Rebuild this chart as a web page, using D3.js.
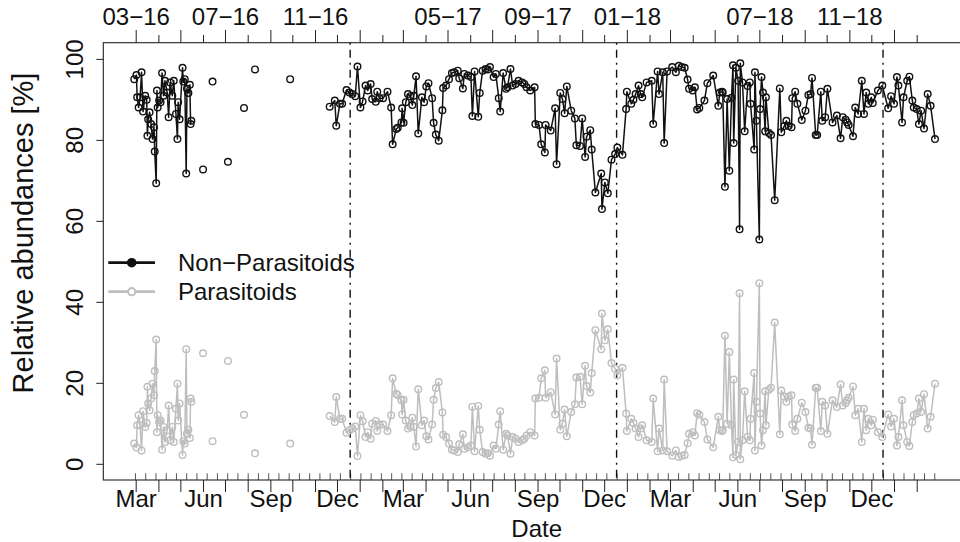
<!DOCTYPE html>
<html>
<head>
<meta charset="utf-8">
<script src="https://cdn.jsdelivr.net/npm/d3@7"></script>
<style>
  body { margin: 0; background: #fff; }
  svg { display: block; font-family: "Liberation Sans", Arial, Helvetica, sans-serif; }
</style>
</head>
<body>
<svg id="chart" width="960" height="542"></svg>
<script>
// Sampling dates (one value per sample for each group)
const sampleDates = [
  "2016-02-28","2016-03-02","2016-03-03","2016-03-05","2016-03-07","2016-03-09","2016-03-11","2016-03-14","2016-03-16","2016-03-17",
  "2016-03-18","2016-03-20","2016-03-22","2016-03-24","2016-03-26","2016-03-27","2016-03-29","2016-03-30","2016-03-31","2016-04-02",
  "2016-04-04","2016-04-06","2016-04-08","2016-04-10","2016-04-13","2016-04-15","2016-04-17","2016-04-20","2016-04-22","2016-04-25",
  "2016-04-27","2016-04-28","2016-04-30","2016-05-04","2016-05-05","2016-05-07","2016-05-09","2016-05-10","2016-05-12","2016-05-14",
  "2016-05-15","2016-05-16",
  "2016-06-01","2016-06-14","2016-07-05","2016-07-27","2016-08-11","2016-09-28",
  "2016-11-21","2016-11-28","2016-11-30","2016-12-05","2016-12-08","2016-12-14","2016-12-18","2016-12-22","2016-12-26","2016-12-29",
  "2017-01-02","2017-01-05","2017-01-09","2017-01-12","2017-01-16","2017-01-18","2017-01-23","2017-01-25","2017-01-28","2017-02-02",
  "2017-02-08","2017-02-13","2017-02-15","2017-02-20","2017-02-22","2017-02-27","2017-02-28","2017-03-02","2017-03-05","2017-03-08",
  "2017-03-11","2017-03-14","2017-03-16","2017-03-19","2017-03-22","2017-03-27","2017-03-30","2017-04-02","2017-04-05","2017-04-10",
  "2017-04-12","2017-04-15","2017-04-19","2017-04-24","2017-04-25","2017-04-29","2017-05-03","2017-05-07","2017-05-10","2017-05-15",
  "2017-05-17","2017-05-22","2017-05-24","2017-05-29","2017-06-02","2017-06-04","2017-06-07","2017-06-12","2017-06-14","2017-06-18",
  "2017-06-22","2017-06-25","2017-06-28","2017-07-03","2017-07-06","2017-07-10","2017-07-12","2017-07-16","2017-07-20","2017-07-22",
  "2017-07-26","2017-07-29","2017-08-02","2017-08-06","2017-08-11","2017-08-14","2017-08-17","2017-08-22","2017-08-28","2017-08-29",
  "2017-09-03","2017-09-06","2017-09-11","2017-09-12","2017-09-19","2017-09-25","2017-09-27","2017-10-02","2017-10-05","2017-10-08",
  "2017-10-11","2017-10-17","2017-10-22","2017-10-24","2017-10-29","2017-11-01","2017-11-05","2017-11-07","2017-11-12","2017-11-14",
  "2017-11-19","2017-11-27","2017-11-28","2017-12-02","2017-12-06","2017-12-11","2017-12-16","2017-12-19","2017-12-26","2017-12-31",
  "2018-01-01",
  "2018-01-07","2018-01-10","2018-01-13","2018-01-17","2018-01-20","2018-01-22","2018-01-28","2018-02-04","2018-02-06","2018-02-12",
  "2018-02-14","2018-02-19","2018-02-21","2018-02-25","2018-03-04","2018-03-09","2018-03-13","2018-03-17","2018-03-21","2018-03-25",
  "2018-03-27","2018-04-01","2018-04-04","2018-04-07","2018-04-10","2018-04-17","2018-04-21","2018-04-29","2018-05-06","2018-05-08",
  "2018-05-11","2018-05-12","2018-05-15","2018-05-18","2018-05-21","2018-05-24","2018-05-26","2018-05-27","2018-05-30","2018-06-02",
  "2018-06-04","2018-06-05","2018-06-08","2018-06-11","2018-06-15","2018-06-18","2018-06-19","2018-06-24","2018-06-25","2018-06-27",
  "2018-07-01","2018-07-02","2018-07-04","2018-07-06","2018-07-09","2018-07-10","2018-07-14","2018-07-17","2018-07-22","2018-07-29",
  "2018-07-31","2018-08-04","2018-08-07","2018-08-10","2018-08-14","2018-08-15","2018-08-19","2018-08-22","2018-08-28","2018-09-02",
  "2018-09-06","2018-09-09","2018-09-11","2018-09-16","2018-09-18","2018-09-23","2018-09-25","2018-09-29","2018-10-02","2018-10-09",
  "2018-10-15","2018-10-20","2018-10-23","2018-10-27","2018-10-29","2018-10-31","2018-11-06","2018-11-09","2018-11-13","2018-11-18",
  "2018-11-21","2018-11-24","2018-11-27","2018-12-01","2018-12-03","2018-12-10","2018-12-16","2018-12-24","2018-12-28","2019-01-01",
  "2019-01-05","2019-01-07","2019-01-12","2019-01-14","2019-01-19","2019-01-22","2019-01-26","2019-01-28","2019-02-01","2019-02-04",
  "2019-02-07","2019-02-11","2019-02-16","2019-02-20","2019-02-26"
];

// Relative abundance of non-parasitoid insects [%]
const nonParasitoids = [
  95.0, 96.0, 90.5, 88.0, 90.5, 96.7, 87.0, 90.9, 89.9, 81.0,
  85.1, 86.8, 83.9, 80.2, 83.1, 77.1, 69.3, 92.2, 88.0, 89.7,
  89.3, 96.5, 90.9, 94.6, 91.7, 85.6, 94.2, 90.9, 94.6, 86.4,
  80.2, 89.3, 85.1, 97.8, 94.4, 95.0, 71.7, 92.6, 91.6, 93.6,
  83.9, 84.7,
  72.7, 94.4, 74.6, 87.9, 97.4, 95.0,
  88.2, 89.7, 83.5, 88.9, 88.9, 92.3, 91.7, 91.3, 90.8, 98.1,
  88.0, 89.5, 93.4, 92.2, 93.8, 90.1, 89.4, 91.9, 90.3, 90.3,
  91.9, 88.0, 78.9, 82.7, 83.0, 84.3, 87.8, 84.2, 89.3, 91.3,
  90.8, 88.6, 90.9, 95.7, 81.6, 90.5, 89.3, 93.2, 94.0, 90.3,
  84.2, 81.3, 79.8, 87.3, 92.8, 93.4, 95.0, 96.5, 96.7, 97.1,
  95.2, 92.7, 96.3, 95.9, 95.5, 85.9, 96.9, 85.7, 91.6, 97.1,
  97.5, 97.4, 98.0, 95.5, 96.3, 90.3, 87.0, 96.5, 92.6, 93.0,
  97.5, 93.4, 93.8, 94.6, 94.2, 93.8, 93.0, 92.2, 93.0, 83.9,
  83.7, 78.9, 76.9, 83.7, 82.3, 87.8, 74.0, 91.6, 90.1, 86.6,
  93.2, 87.2, 85.3, 78.7, 78.5, 85.3, 75.8, 80.8, 82.4, 77.6,
  67.0, 71.7, 62.9, 69.5, 66.8, 75.1, 76.5, 78.1, 76.3, 87.6,
  91.9,
  88.9, 89.9, 91.3, 93.4, 91.3, 90.5, 94.2, 94.6, 83.9, 96.9,
  91.3, 96.7, 79.2, 96.9, 98.0, 96.7, 98.3, 98.0, 97.8, 94.9,
  92.6, 92.2, 93.0, 87.5, 87.9, 89.7, 94.0, 95.9, 88.4, 91.7,
  91.9, 91.7, 68.4, 90.1, 72.4, 90.4, 98.4, 79.2, 97.8, 94.6,
  57.9, 98.9, 94.2, 82.1, 93.3, 94.2, 88.9, 77.6, 96.7, 84.7,
  55.4, 87.6, 95.5, 91.7, 82.1, 90.5, 81.7, 81.2, 65.1, 92.7,
  81.9, 83.4, 84.7, 83.4, 83.1, 90.3, 91.9, 88.9, 84.9, 87.2,
  91.1, 91.3, 95.3, 81.2, 81.2, 91.9, 84.7, 85.6, 92.6, 84.3,
  86.0, 80.4, 85.6, 85.0, 84.3, 83.7, 80.9, 88.0, 86.4, 94.6,
  86.4, 91.7, 88.9, 90.5, 89.1, 92.2, 93.4, 87.8, 90.8, 88.9,
  95.5, 93.4, 84.3, 90.5, 94.6, 95.6, 89.7, 88.0, 87.6, 83.9,
  87.2, 82.8, 91.3, 88.4, 80.2
];

// Relative abundance of parasitoids [%]
const parasitoids = [
   5.0,  4.0,  9.5, 12.0,  9.5,  3.3, 13.0,  9.1, 10.1, 19.0,
  14.9, 13.2, 16.1, 19.8, 16.9, 22.9, 30.7,  7.8, 12.0, 10.3,
  10.7,  3.5,  9.1,  5.4,  8.3, 14.4,  5.8,  9.1,  5.4, 13.6,
  19.8, 10.7, 14.9,  2.2,  5.6,  5.0, 28.3,  7.4,  8.4,  6.4,
  16.1, 15.3,
  27.3,  5.6, 25.4, 12.1,  2.6,  5.0,
  11.8, 10.3, 16.5, 11.1, 11.1,  7.7,  8.3,  8.7,  9.2,  1.9,
  12.0, 10.5,  6.6,  7.8,  6.2,  9.9, 10.6,  8.1,  9.7,  9.7,
   8.1, 12.0, 21.1, 17.3, 17.0, 15.7, 12.2, 15.8, 10.7,  8.7,
   9.2, 11.4,  9.1,  4.3, 18.4,  9.5, 10.7,  6.8,  6.0,  9.7,
  15.8, 18.7, 20.2, 12.7,  7.2,  6.6,  5.0,  3.5,  3.3,  2.9,
   4.8,  7.3,  3.7,  4.1,  4.5, 14.1,  3.1, 14.3,  8.4,  2.9,
   2.5,  2.6,  2.0,  4.5,  3.7,  9.7, 13.0,  3.5,  7.4,  7.0,
   2.5,  6.6,  6.2,  5.4,  5.8,  6.2,  7.0,  7.8,  7.0, 16.1,
  16.3, 21.1, 23.1, 16.3, 17.7, 12.2, 26.0,  8.4,  9.9, 13.4,
   6.8, 12.8, 14.7, 21.3, 21.5, 14.7, 24.2, 19.2, 17.6, 22.4,
  33.0, 28.3, 37.1, 30.5, 33.2, 24.9, 23.5, 21.9, 23.7, 12.4,
   8.1,
  11.1, 10.1,  8.7,  6.6,  8.7,  9.5,  5.8,  5.4, 16.1,  3.1,
   8.7,  3.3, 20.8,  3.1,  2.0,  3.3,  1.7,  2.0,  2.2,  5.1,
   7.4,  7.8,  7.0, 12.5, 12.1, 10.3,  6.0,  4.1, 11.6,  8.3,
   8.1,  8.3, 31.6,  9.9, 27.6,  9.6,  1.6, 20.8,  2.2,  5.4,
  42.1,  1.1,  5.8, 17.9,  6.7,  5.8, 11.1, 22.4,  3.3, 15.3,
  44.6, 12.4,  4.5,  8.3, 17.9,  9.5, 18.3, 18.8, 34.9,  7.3,
  18.1, 16.6, 15.3, 16.6, 16.9,  9.7,  8.1, 11.1, 15.1, 12.8,
   8.9,  8.7,  4.7, 18.8, 18.8,  8.1, 15.3, 14.4,  7.4, 15.7,
  14.0, 19.6, 14.4, 15.0, 15.7, 16.3, 19.1, 12.0, 13.6,  5.4,
  13.6,  8.3, 11.1,  9.5, 10.9,  7.8,  6.6, 12.2,  9.2, 11.1,
   4.5,  6.6, 15.7,  9.5,  5.4,  4.4, 10.3, 12.0, 12.4, 16.1,
  12.8, 17.2,  8.7, 11.6, 19.8
];

// Season boundaries (dash-dot verticals)
const seasonBreaks = ["2016-12-19", "2017-12-18", "2018-12-17"];

// Axis labels
const bottomLabelDates = ["2016-03-01","2016-06-01","2016-09-01","2016-12-01","2017-03-01","2017-06-01",
                          "2017-09-01","2017-12-01","2018-03-01","2018-06-01","2018-09-01","2018-12-01"];
const bottomLabelTexts = ["Mar","Jun","Sep","Dec","Mar","Jun","Sep","Dec","Mar","Jun","Sep","Dec"];
const topLabelDates = ["2016-03-01","2016-07-01","2016-11-01","2017-05-01","2017-09-01","2018-01-01","2018-07-01","2018-11-01"];
const topLabelTexts = ["03\u221216","07\u221216","11\u221216","05\u221217","09\u221217","01\u221218","07\u221218","11\u221218"];
const yTicks = [0, 20, 40, 60, 80, 100];
const seriesNames = ["Non\u2212Parasitoids", "Parasitoids"];

const parse = d3.utcParse("%Y-%m-%d");
const dates = sampleDates.map(parse);

const box = { left: 103.3, right: 970, top: 42.7, bottom: 480 };
const black = "#111";
const grey = "#bebebe";

const x = d3.scaleUtc()
  .domain([parse("2016-03-01"), parse("2019-02-01")])
  .range([135.7, 916.7]);
const y = d3.scaleLinear().domain([-4, 104]).range([box.bottom, box.top]);

const svg = d3.select("#chart");

// ---- axes ----
const monthTicks = d3.utcMonth.range(parse("2016-03-01"), parse("2019-03-01"));
const minorTicks = d3.utcDay.range(parse("2016-02-29"), parse("2019-02-27"), 14);
const fmtKey = d3.utcFormat("%Y-%m-%d");
const bottomLabelMap = new Map(bottomLabelDates.map((d, i) => [d, bottomLabelTexts[i]]));
const topLabelMap = new Map(topLabelDates.map((d, i) => [d, topLabelTexts[i]]));

function styleAxis(g) {
  g.select(".domain").remove();
  g.selectAll(".tick line").attr("stroke", "#222").attr("stroke-width", 1);
  g.selectAll(".tick text").attr("fill", "#111").attr("font-size", 24)
    .attr("font-family", "'Liberation Sans', Arial, Helvetica, sans-serif");
}

// bottom: inward biweekly ticks
svg.append("g").attr("transform", `translate(0,${box.bottom})`)
  .call(d3.axisBottom(x).tickValues(minorTicks).tickSize(-6.7).tickFormat(() => ""))
  .call(styleAxis)
  .call(g => g.selectAll(".tick line").attr("stroke", "#555"));

// bottom: monthly ticks with season labels
svg.append("g").attr("transform", `translate(0,${box.bottom})`)
  .call(d3.axisBottom(x).tickValues(monthTicks).tickSize(12).tickPadding(-2)
    .tickFormat(d => bottomLabelMap.get(fmtKey(d)) || ""))
  .call(styleAxis);

// top: long ticks every second month, short ticks in between
const longTop = monthTicks.filter(d => d.getUTCMonth() % 2 === 0);
const shortTop = monthTicks.filter(d => d.getUTCMonth() % 2 === 1);
svg.append("g").attr("transform", `translate(0,${box.top})`)
  .call(d3.axisTop(x).tickValues(longTop).tickSize(12.7).tickPadding(5)
    .tickFormat(d => topLabelMap.get(fmtKey(d)) || ""))
  .call(styleAxis);
svg.append("g").attr("transform", `translate(0,${box.top})`)
  .call(d3.axisTop(x).tickValues(shortTop).tickSize(7.7).tickFormat(() => ""))
  .call(styleAxis);

// left axis with rotated labels
svg.append("g").attr("transform", `translate(${box.left},0)`)
  .call(d3.axisLeft(y).tickValues(yTicks).tickSize(7))
  .call(styleAxis)
  .call(g => g.selectAll(".tick text")
    .attr("x", null).attr("dy", null)
    .attr("text-anchor", "middle")
    .attr("transform", "translate(-20.6,0) rotate(-90)"));

// plot frame (extends past the right edge of the canvas)
svg.append("rect")
  .attr("x", box.left).attr("y", box.top)
  .attr("width", box.right - box.left).attr("height", box.bottom - box.top)
  .attr("fill", "none").attr("stroke", "#222").attr("stroke-width", 1.1);

// axis titles
svg.append("text")
  .attr("x", (box.left + box.right) / 2).attr("y", 537)
  .attr("text-anchor", "middle").attr("font-size", 24).attr("fill", "#111")
  .text("Date");
svg.append("text")
  .attr("transform", "translate(33,233) rotate(-90)")
  .attr("text-anchor", "middle").attr("font-size", 29).attr("fill", "#111")
  .text("Relative abundances [%]");

// ---- season separators ----
svg.append("g").selectAll("line").data(seasonBreaks.map(parse)).join("line")
  .attr("x1", d => x(d)).attr("x2", d => x(d))
  .attr("y1", box.top).attr("y2", box.bottom)
  .attr("stroke", "#111").attr("stroke-width", 1.4)
  .attr("stroke-dasharray", "2,5,8,5");

// ---- series ----
// consecutive samples more than 12 days apart are not joined
const maxGap = 12 * 864e5;
const segments = [];
let current = [];
dates.forEach((d, i) => {
  if (i > 0 && d - dates[i - 1] > maxGap) { segments.push(current); current = []; }
  current.push(i);
});
segments.push(current);

const series = [
  { name: seriesNames[1], values: parasitoids, color: grey },
  { name: seriesNames[0], values: nonParasitoids, color: black }
];

series.forEach(s => {
  const line = d3.line().x(i => x(dates[i])).y(i => y(s.values[i]));
  const g = svg.append("g");
  g.selectAll("path").data(segments.filter(seg => seg.length > 1)).join("path")
    .attr("d", line).attr("fill", "none")
    .attr("stroke", s.color).attr("stroke-width", 1.5).attr("stroke-linejoin", "round");
  g.selectAll("circle").data(d3.range(dates.length)).join("circle")
    .attr("cx", i => x(dates[i])).attr("cy", i => y(s.values[i]))
    .attr("r", 3.3).attr("fill", "none")
    .attr("stroke", s.color).attr("stroke-width", 1.4);
});

// ---- legend ----
const legend = svg.append("g");
const legendRows = [
  { name: seriesNames[0], color: black, filled: true, cy: 262.7 },
  { name: seriesNames[1], color: grey, filled: false, cy: 291.7 }
];
legendRows.forEach(r => {
  legend.append("line").attr("x1", 108.3).attr("x2", 155).attr("y1", r.cy).attr("y2", r.cy)
    .attr("stroke", r.color).attr("stroke-width", 2.8);
  legend.append("circle").attr("cx", 131.7).attr("cy", r.cy).attr("r", r.filled ? 3.8 : 3.6)
    .attr("fill", r.filled ? r.color : "#fff").attr("stroke", r.color).attr("stroke-width", 2);
  legend.append("text").attr("x", 178).attr("y", r.cy + 7.8)
    .attr("font-size", 24).attr("fill", "#111").text(r.name);
});
</script>
</body>
</html>
